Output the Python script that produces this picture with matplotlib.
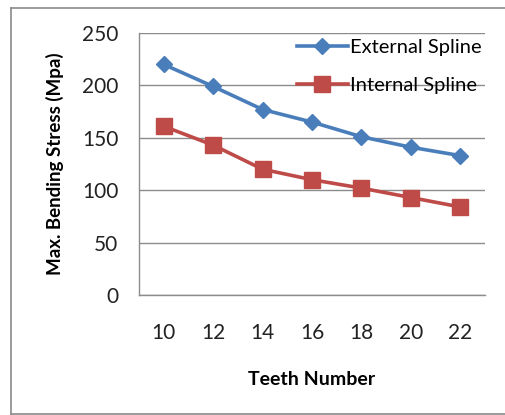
import matplotlib
matplotlib.use('Agg')
import matplotlib.pyplot as plt
from matplotlib.lines import Line2D

# Data
teeth = ['10', '12', '14', '16', '18', '20', '22']
external = [220, 199, 177, 165, 151, 141, 133]
internal = [161, 143, 120, 110, 102, 93, 84]
y_ticks = [0, 50, 100, 150, 200, 250]

plt.rcParams['font.family'] = ['Lato', 'DejaVu Sans']

fig = plt.figure(figsize=(5.05, 4.15), dpi=100)
fig.patch.set_facecolor('white')

# chart frame like an Excel chart area: left, top and bottom edges only
x0, y0, y1 = 11 / 505, 1.5 / 415, 407 / 415
for xs, ys in [([x0, x0], [y0, y1]), ([x0, 1.0], [y1, y1]), ([x0, 1.0], [y0, y0])]:
    fig.lines.append(Line2D(xs, ys, transform=fig.transFigure, color='#8a8a8a', linewidth=1.2))

ax = fig.add_axes([139 / 505, 120 / 415, 346 / 505, 262 / 415])
x = range(len(teeth))

ax.plot(x, external, color='#4A7EBB', marker='D', markersize=8.5, linewidth=2.6,
        label='External Spline')
ax.plot(x, internal, color='#BE4B48', marker='s', markersize=12, linewidth=2.6,
        label='Internal Spline')

ax.set_xlim(-0.5, len(teeth) - 0.5)
ax.set_ylim(0, 250)
ax.set_yticks(y_ticks)
ax.set_xticks(list(x))
ax.set_xticklabels(teeth)
ax.yaxis.grid(True, color='#8c8c8c', linewidth=1)
ax.set_axisbelow(True)

for side in ['top', 'right']:
    ax.spines[side].set_visible(False)
for side in ['left', 'bottom']:
    ax.spines[side].set_color('#8c8c8c')
    ax.spines[side].set_linewidth(1)

ax.tick_params(axis='both', length=0, labelsize=15, colors='#222222')
ax.tick_params(axis='y', pad=15)
ax.tick_params(axis='x', pad=20)

ax.set_xlabel('Teeth Number', fontsize=14, fontweight='bold', labelpad=20)
ax.set_ylabel('Max. Bending Stress (Mpa)', fontsize=13.5, fontweight='bold', labelpad=13)

ax.legend(loc='upper right', bbox_to_anchor=(1.03, 1.03), frameon=False, fontsize=14.5,
          handlelength=2.5, handletextpad=0.1, labelspacing=1.0, borderaxespad=0.3)

plt.savefig('out.png', dpi=100)
